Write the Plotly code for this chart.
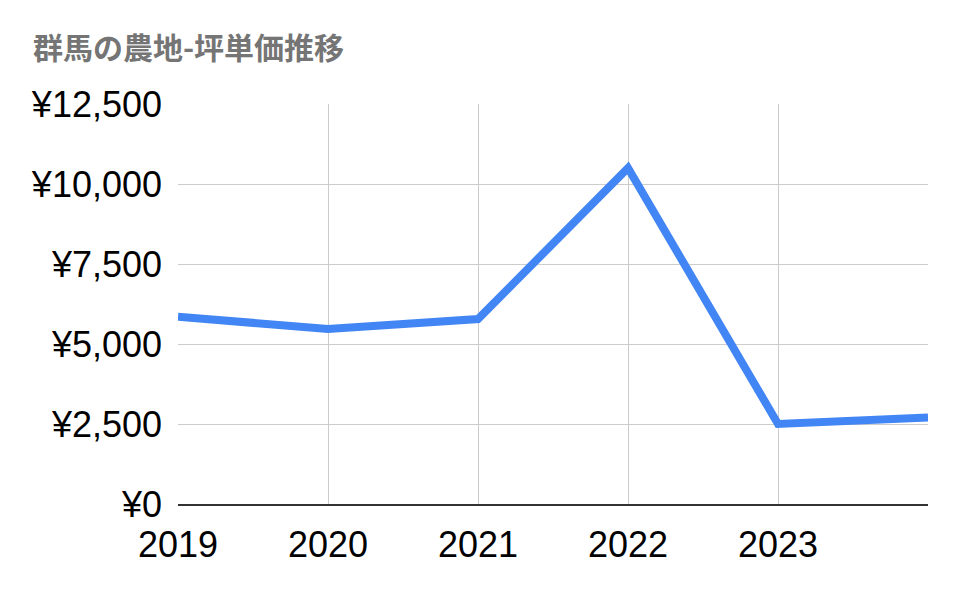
import plotly.graph_objects as go

# 群馬の農地 坪単価 (円)
years = [2019, 2020, 2021, 2022, 2023, 2024]
year_labels = ["2019", "2020", "2021", "2022", "2023", ""]
prices = [5850, 5470, 5780, 10500, 2500, 2700]
y_ticks = [0, 2500, 5000, 7500, 10000, 12500]
y_labels = ["¥0", "¥2,500", "¥5,000", "¥7,500", "¥10,000", "¥12,500"]

fig = go.Figure()
fig.add_trace(go.Scatter(x=years, y=prices, mode="lines",
                         line=dict(color="#4285F4", width=8),
                         hoverinfo="x+y"))

fig.update_layout(
    width=958, height=593,
    margin=dict(l=170, r=38, t=96, b=97),
    paper_bgcolor="white", plot_bgcolor="white",
    showlegend=False,
    font=dict(family="Liberation Sans, Arial, sans-serif", size=36, color="#000000"),
    title=dict(text="<b>群馬の農地-坪単価推移</b>",
               font=dict(family="Noto Sans CJK JP", size=30, color="#757575"),
               x=25 / 958, xanchor="left", xref="container",
               y=1 - 40 / 593, yanchor="middle", yref="container"),
)
# x axis: numeric years so the last point lands on the right edge
fig.update_xaxes(range=[years[0], years[-1]], tickvals=years, ticktext=year_labels,
                 showgrid=True, gridcolor="#cccccc", gridwidth=1,
                 showline=True, linecolor="#333333", linewidth=1.5,
                 zeroline=False, ticks="", ticklabelstandoff=8)
fig.update_yaxes(range=[0, 12500], tickvals=y_ticks, ticktext=y_labels,
                 showgrid=True, gridcolor="#cccccc", gridwidth=1,
                 showline=False, zeroline=False, ticks="", ticklabelstandoff=15)

fig.write_html("out.html")
